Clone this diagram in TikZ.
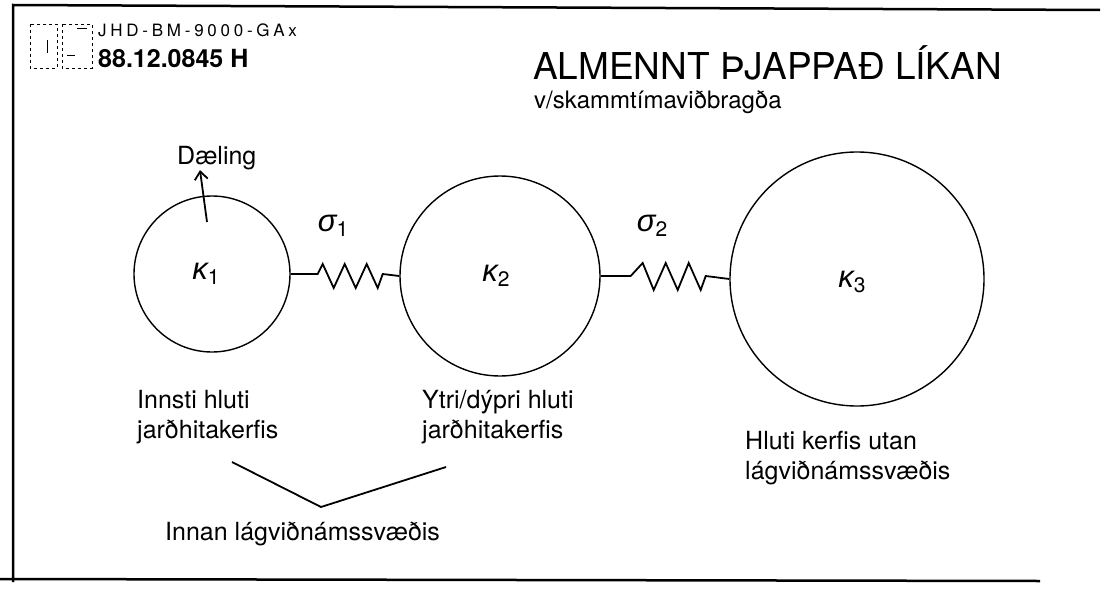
\documentclass[tikz,border=0pt]{standalone}
\usepackage{fontspec}
\setmainfont{TeX Gyre Heros}
\newfontfamily\hdrfont[LetterSpace=22]{TeX Gyre Heros}
\newfontfamily\grkfont{Liberation Sans}
\newcommand{\gsym}[2]{{\grkfont\itshape #1}\raisebox{-0.3ex}{\fontsize{21}{24}\selectfont #2}}
\usepackage{tikz}
\usetikzlibrary{arrows.meta}

\begin{document}
\begin{tikzpicture}[x=1pt,y=-1pt,
    ball/.style={circle,draw,line width=1.4pt,inner sep=0pt},
    sym/.style={inner sep=0pt,font=\fontsize{31}{36}\selectfont},
    txt/.style={anchor=north west,inner sep=0pt,align=left,font=\fontsize{25}{30}\selectfont},
    coil/.style={line width=1.8pt,line join=miter}]
  \useasboundingbox (0,0) rectangle (1108,594);
  % frame
  \draw[line width=2.5pt] (1100,10) -- (13,5) -- (13,582);
  \draw[line width=2.5pt] (0,579) -- (1040,581);

  % stamp
  \draw[dashed,line width=0.8pt] (30,24) rectangle (57,68);
  \draw[dashed,line width=0.8pt] (62,24) rectangle (92,68);
  \draw[line width=0.8pt] (47,40) -- (47,53);
  \draw[line width=0.8pt] (77,28) -- (87,28) (67,55) -- (75,55);
  \node[anchor=base west,inner sep=0pt,font=\hdrfont\fontsize{17}{20}\selectfont] (stampA) at (98,37) {JHD-BM-9000-GAx};
  \node[anchor=base west,inner sep=0pt,font=\fontsize{25}{30}\selectfont\bfseries] (stampB) at (98,67) {88.12.0845 H};

  % title
  \node[anchor=base west,inner sep=0pt,font=\fontsize{37}{44}\selectfont] (title) at (533,79) {ALMENNT ÞJAPPAÐ LÍKAN};
  \node[anchor=base west,inner sep=0pt,font=\fontsize{24}{28}\selectfont] (subtitle) at (534,108) {v/skammtímaviðbragða};

  % reservoirs
  \node[ball,minimum size=156] (k1) at (212,274) {};
  \node[ball,minimum size=200] (k2) at (500,276) {};
  \node[ball,minimum size=254] (k3) at (857,279) {};
  \node[sym] (k1sym) at ([xshift=-6]k1.center) {\gsym{κ}{1}};
  \node[sym] (k2sym) at ([xshift=-4]k2.center) {\gsym{κ}{2}};
  \node[sym] (k3sym) at ([xshift=-5,yshift=-3]k3.center) {\gsym{κ}{3}};

  % springs
  \draw[coil] (k1.east) -- ++(27,0) -- ++(5,-10) -- ++(11,24) -- ++(11,-24) -- ++(11,24)
    -- ++(11,-24) -- ++(11,24) -- ++(5,-14) -- (k2.west);
  \draw[coil] (k2.east) -- ++(30,0) -- ++(12,-13) -- ++(11,27) -- ++(12,-27) -- ++(12,27)
    -- ++(11,-27) -- ++(12,27) -- ++(5,-14) -- (k3.west);
  \node[sym] (s1) at (333,226) {\gsym{σ}{1}};
  \node[sym] (s2) at (652,226) {\gsym{σ}{2}};

  % pumping
  \node[txt] (pump) at (177,146) {Dæling};
  \coordinate (pumpfoot) at (207,222);
  \draw[-{Straight Barb[length=8pt,width=13pt]},line width=1.8pt] (pumpfoot) -- (pump.south west -| 200,173);

  % labels
  \node[txt] (inner) at (137,390) {Innsti hluti\\jarðhitakerfis};
  \node[txt] (outer) at (422,390) {Ytri/dýpri hluti\\jarðhitakerfis};
  \node[txt] (beyond) at (745,431) {Hluti kerfis utan\\lágviðnámssvæðis};
  \node[txt] (within) at (165,522) {Innan lágviðnámssvæðis};

  \coordinate (vleft) at (232,462);
  \coordinate (vtip) at (321,507);
  \coordinate (vright) at (446,467);
  \draw[line width=1.8pt] (vleft) -- (vtip) -- (vright);
\end{tikzpicture}
\end{document}
